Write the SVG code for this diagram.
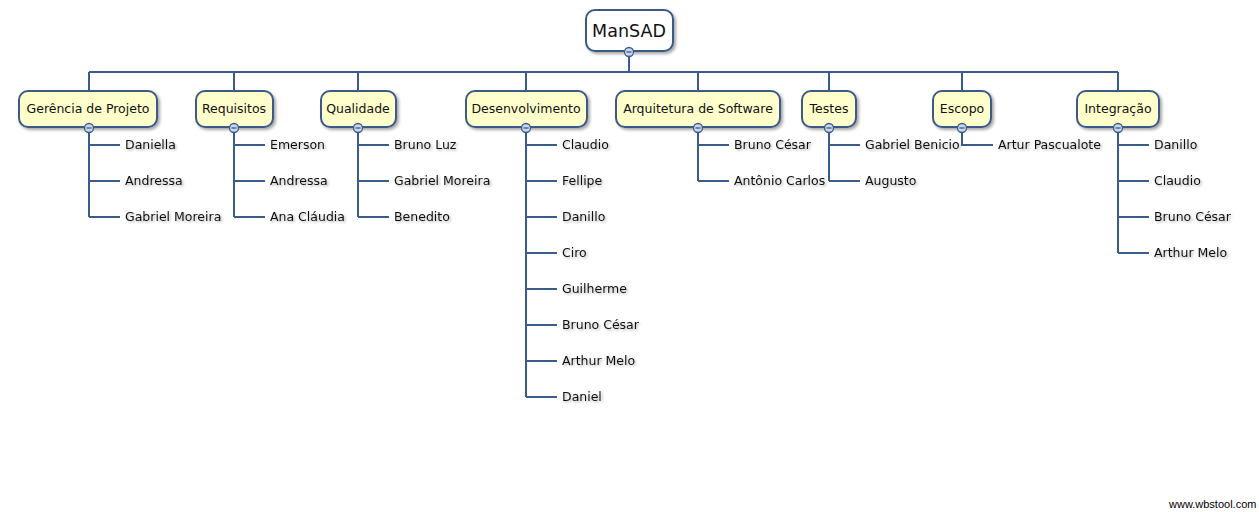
<svg xmlns="http://www.w3.org/2000/svg" width="1259" height="512" viewBox="0 0 1259 512">
<defs>
<filter id="sh" x="-10%" y="-20%" width="130%" height="150%">
<feDropShadow dx="2" dy="2" stdDeviation="1.5" flood-color="#000" flood-opacity="0.35"/>
</filter>
<filter id="tsh" x="-5%" y="-20%" width="115%" height="160%">
<feDropShadow dx="1.5" dy="1.5" stdDeviation="1" flood-color="#000" flood-opacity="0.3"/>
</filter>
<g id="minus">
<circle r="4.5" fill="#c9d6ea" stroke="#3a5a8a" stroke-width="1.3"/>
<line x1="-2.5" y1="0" x2="2.5" y2="0" stroke="#3a5a8a" stroke-width="1.3"/>
</g>
</defs>
<style>
.box{fill:#ffffcc;stroke:#3a5a8a;stroke-width:2;filter:url(#sh)}
.root{fill:#ffffff;stroke:#3a5a8a;stroke-width:2;filter:url(#sh)}
.tc{font-family:"DejaVu Sans",Verdana,sans-serif;font-size:12.5px;fill:#111;text-anchor:middle}
.lf{font-family:"DejaVu Sans",Verdana,sans-serif;font-size:12.5px;fill:#111;filter:url(#tsh)}
.rt{font-family:"DejaVu Sans",Verdana,sans-serif;font-size:17.5px;fill:#111;text-anchor:middle}
.ln{fill:none;stroke:#3b5a8e;stroke-width:2}
.wm{font-family:"Liberation Sans",Arial,sans-serif;font-size:11px;fill:#000}
</style>
<rect width="1259" height="512" fill="#ffffff"/>
<g id="connectors" class="ln">
<path d="M629 52V72M89 72H1118M89 72V91M234 72V91M358 72V91M526 72V91M698 72V91M829 72V91M962 72V91M1118 72V91"/>
<path d="M89 128V217M89 145H120M89 181H120M89 217H120"/>
<path d="M234 128V217M234 145H265M234 181H265M234 217H265"/>
<path d="M358 128V217M358 145H389M358 181H389M358 217H389"/>
<path d="M526 128V397M526 145H557M526 181H557M526 217H557M526 253H557M526 289H557M526 325H557M526 361H557M526 397H557"/>
<path d="M698 128V181M698 145H729M698 181H729"/>
<path d="M829 128V181M829 145H860M829 181H860"/>
<path d="M962 128V145H993"/>
<path d="M1118 128V253M1118 145H1149M1118 181H1149M1118 217H1149M1118 253H1149"/>
</g>
<g id="root">
<rect class="root" x="586" y="10" width="87" height="41" rx="9"/>
<text class="rt" x="629" y="37">ManSAD</text>
<use href="#minus" x="629" y="52"/>
</g>
<g id="n-gerencia">
<rect class="box" x="19" y="91" width="138" height="36" rx="9"/>
<text class="tc" x="88" y="113">Gerência de Projeto</text>
<use href="#minus" x="89" y="128"/>
<text class="lf" x="125" y="149">Daniella</text>
<text class="lf" x="125" y="185">Andressa</text>
<text class="lf" x="125" y="221">Gabriel Moreira</text>
</g>
<g id="n-requisitos">
<rect class="box" x="196" y="91" width="77" height="36" rx="9"/>
<text class="tc" x="234" y="113">Requisitos</text>
<use href="#minus" x="234" y="128"/>
<text class="lf" x="270" y="149">Emerson</text>
<text class="lf" x="270" y="185">Andressa</text>
<text class="lf" x="270" y="221">Ana Cláudia</text>
</g>
<g id="n-qualidade">
<rect class="box" x="321" y="91" width="75" height="36" rx="9"/>
<text class="tc" x="358" y="113">Qualidade</text>
<use href="#minus" x="358" y="128"/>
<text class="lf" x="394" y="149">Bruno Luz</text>
<text class="lf" x="394" y="185">Gabriel Moreira</text>
<text class="lf" x="394" y="221">Benedito</text>
</g>
<g id="n-desenvolvimento">
<rect class="box" x="466" y="91" width="121" height="36" rx="9"/>
<text class="tc" x="526" y="113">Desenvolvimento</text>
<use href="#minus" x="526" y="128"/>
<text class="lf" x="562" y="149">Claudio</text>
<text class="lf" x="562" y="185">Fellipe</text>
<text class="lf" x="562" y="221">Danillo</text>
<text class="lf" x="562" y="257">Ciro</text>
<text class="lf" x="562" y="293">Guilherme</text>
<text class="lf" x="562" y="329">Bruno César</text>
<text class="lf" x="562" y="365">Arthur Melo</text>
<text class="lf" x="562" y="401">Daniel</text>
</g>
<g id="n-arquitetura">
<rect class="box" x="616" y="91" width="164" height="36" rx="9"/>
<text class="tc" x="698" y="113">Arquitetura de Software</text>
<use href="#minus" x="698" y="128"/>
<text class="lf" x="734" y="149">Bruno César</text>
<text class="lf" x="734" y="185">Antônio Carlos</text>
</g>
<g id="n-testes">
<rect class="box" x="802" y="91" width="54" height="36" rx="9"/>
<text class="tc" x="829" y="113">Testes</text>
<use href="#minus" x="829" y="128"/>
<text class="lf" x="865" y="149">Gabriel Benicio</text>
<text class="lf" x="865" y="185">Augusto</text>
</g>
<g id="n-escopo">
<rect class="box" x="933" y="91" width="58" height="36" rx="9"/>
<text class="tc" x="962" y="113">Escopo</text>
<use href="#minus" x="962" y="128"/>
<text class="lf" x="998" y="149">Artur Pascualote</text>
</g>
<g id="n-integracao">
<rect class="box" x="1077" y="91" width="82" height="36" rx="9"/>
<text class="tc" x="1118" y="113">Integração</text>
<use href="#minus" x="1118" y="128"/>
<text class="lf" x="1154" y="149">Danillo</text>
<text class="lf" x="1154" y="185">Claudio</text>
<text class="lf" x="1154" y="221">Bruno César</text>
<text class="lf" x="1154" y="257">Arthur Melo</text>
</g>
<text class="wm" x="1169" y="508">www.wbstool.com</text>
</svg>
